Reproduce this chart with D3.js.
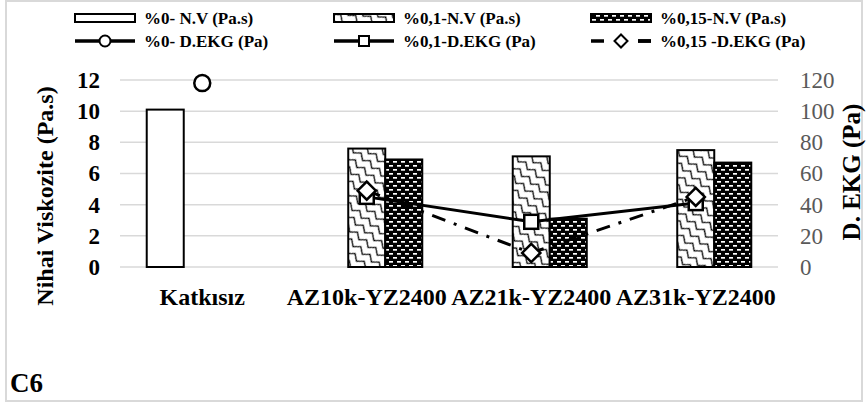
<!DOCTYPE html>
<html>
<head>
<meta charset="utf-8">
<script src="https://cdn.jsdelivr.net/npm/d3@7"></script>
<style>
	body { margin: 0; background: #fff; }
</style>
</head>
<body>
<div id="chart"></div>
<script>
const categories = ["Katkısız", "AZ10k-YZ2400", "AZ21k-YZ2400", "AZ31k-YZ2400"];

// Nihai viskozite (Pa.s), left axis
const nv0 = [10.1, null, null, null];
const nv01 = [null, 7.6, 7.1, 7.5];
const nv015 = [null, 6.9, 3.1, 6.7];

// D. EKG (Pa), right axis
const ekg0 = [118, null, null, null];
const ekg01 = [null, 45, 29, 41];
const ekg015 = [null, 49, 9, 45];

const leftTicks = [0, 2, 4, 6, 8, 10, 12];
const rightTicks = [0, 20, 40, 60, 80, 100, 120];

const barSeries = [
	{ name: "%0- N.V (Pa.s)", values: nv0, fill: "#fff" },
	{ name: "%0,1-N.V (Pa.s)", values: nv01, fill: "url(#wave)" },
	{ name: "%0,15-N.V (Pa.s)", values: nv015, fill: "url(#brick)" },
];
const lineSeries = [
	{ name: "%0- D.EKG (Pa)", values: ekg0, marker: "circle", dash: null },
	{ name: "%0,1-D.EKG (Pa)", values: ekg01, marker: "square", dash: null },
	{ name: "%0,15 -D.EKG (Pa)", values: ekg015, marker: "diamond", dash: "14 9 3 9" },
];

const FONT = "Times New Roman, Liberation Serif, DejaVu Serif, serif";
const width = 866;
const height = 405;
const plot = { left: 120, right: 778, top: 80, bottom: 267 };

const svg = d3
	.select("#chart")
	.append("svg")
	.attr("width", width)
	.attr("height", height)
	.style("font-family", FONT);

// Patterns
const defs = svg.append("defs");
const wave = defs
	.append("pattern")
	.attr("id", "wave")
	.attr("patternUnits", "userSpaceOnUse")
	.attr("width", 12)
	.attr("height", 9)
	.attr("patternTransform", "rotate(40)");
wave.append("rect").attr("width", 12).attr("height", 9).attr("fill", "#fff");
wave
	.append("path")
	.attr("d", "M0,4.5 L3,2 L6,4.5 L9,7 L12,4.5")
	.attr("fill", "none")
	.attr("stroke", "#000")
	.attr("stroke-width", 1.3);

const brick = defs
	.append("pattern")
	.attr("id", "brick")
	.attr("patternUnits", "userSpaceOnUse")
	.attr("width", 8)
	.attr("height", 8);
brick.append("rect").attr("width", 8).attr("height", 8).attr("fill", "#000");
[[1, 1, 4], [5, 5, 3], [0, 5, 1]].forEach(([bx, by, bw]) => {
	brick
		.append("rect")
		.attr("x", bx)
		.attr("y", by)
		.attr("width", bw)
		.attr("height", 1.7)
		.attr("fill", "#fff");
});

// Outer border
svg
	.append("rect")
	.attr("x", 6)
	.attr("y", 1)
	.attr("width", 856)
	.attr("height", 400)
	.attr("fill", "none")
	.attr("stroke", "#d9d9d9")
	.attr("stroke-width", 2);

// Scales
const x = d3.scaleBand().domain(categories).range([plot.left, plot.right]);
const bw = x.bandwidth();
const xInner = d3
	.scaleBand()
	.domain(d3.range(barSeries.length))
	.range([bw * 0.1625, bw * 0.8375]);
const y = d3.scaleLinear().domain([0, 12]).range([plot.bottom, plot.top]);
const y2 = d3.scaleLinear().domain([0, 120]).range([plot.bottom, plot.top]);

// Gridlines
svg
	.append("g")
	.selectAll("line")
	.data(leftTicks)
	.join("line")
	.attr("x1", plot.left)
	.attr("x2", plot.right)
	.attr("y1", (d) => y(d))
	.attr("y2", (d) => y(d))
	.attr("stroke", "#d9d9d9")
	.attr("stroke-width", 1.5);

// Left axis
const gLeft = svg
	.append("g")
	.attr("transform", `translate(${plot.left - 20},0)`)
	.call(d3.axisLeft(y).tickValues(leftTicks).tickSize(0).tickPadding(0));
gLeft.select(".domain").remove();
gLeft.attr("font-family", null).attr("font-size", null);
gLeft
	.selectAll("text")
	.style("font-family", FONT)
	.style("font-size", "23px")
	.style("font-weight", "bold")
	.attr("fill", "#000");

// Right axis
const gRight = svg
	.append("g")
	.attr("transform", `translate(${plot.right + 22},0)`)
	.call(d3.axisRight(y2).tickValues(rightTicks).tickSize(0).tickPadding(0));
gRight.select(".domain").remove();
gRight.attr("font-family", null).attr("font-size", null);
gRight
	.selectAll("text")
	.style("font-family", FONT)
	.style("font-size", "23px")
	.attr("fill", "#595959");

// Category labels
svg
	.append("g")
	.selectAll("text")
	.data(categories)
	.join("text")
	.attr("x", (d) => x(d) + bw / 2)
	.attr("y", 305)
	.attr("text-anchor", "middle")
	.style("font-size", "24px")
	.style("font-weight", "bold")
	.text((d) => d);

// Bars
barSeries.forEach((s, si) => {
	svg
		.append("g")
		.selectAll("rect")
		.data(s.values.map((v, i) => ({ v, c: categories[i] })).filter((d) => d.v != null))
		.join("rect")
		.attr("x", (d) => x(d.c) + xInner(si))
		.attr("y", (d) => y(d.v))
		.attr("width", xInner.bandwidth())
		.attr("height", (d) => y(0) - y(d.v))
		.attr("fill", s.fill)
		.attr("stroke", "#000")
		.attr("stroke-width", 2);
});

// Markers
const drawMarker = (g, type, cx, cy, size) => {
	if (type === "circle") {
		g.append("circle").attr("cx", cx).attr("cy", cy).attr("r", size);
	} else if (type === "square") {
		g.append("rect")
			.attr("x", cx - size)
			.attr("y", cy - size)
			.attr("width", size * 2)
			.attr("height", size * 2);
	} else {
		const r = size * 1.3;
		g.append("path").attr("d", `M${cx},${cy - r}L${cx + r},${cy}L${cx},${cy + r}L${cx - r},${cy}Z`);
	}
};

// Lines
const line = d3
	.line()
	.defined((d) => d.v != null)
	.x((d) => x(d.c) + bw / 2)
	.y((d) => y2(d.v));

lineSeries.forEach((s) => {
	const pts = s.values.map((v, i) => ({ v, c: categories[i] }));
	svg
		.append("path")
		.datum(pts)
		.attr("d", line)
		.attr("fill", "none")
		.attr("stroke", "#000")
		.attr("stroke-width", 3)
		.attr("stroke-dasharray", s.dash);
});
lineSeries.forEach((s) => {
	const g = svg.append("g").attr("fill", "#fff").attr("stroke", "#000").attr("stroke-width", 2.5);
	s.values.forEach((v, i) => {
		if (v == null) return;
		drawMarker(g, s.marker, x(categories[i]) + bw / 2, y2(v), s.marker === "circle" ? 8 : 7);
	});
});

// Axis titles
svg
	.append("text")
	.attr("transform", "translate(53,196) rotate(-90)")
	.attr("text-anchor", "middle")
	.style("font-size", "24px")
	.style("font-weight", "bold")
	.text("Nihai Viskozite (Pa.s)");

svg
	.append("text")
	.attr("transform", "translate(860,172) rotate(-90)")
	.attr("text-anchor", "middle")
	.style("font-size", "25px")
	.style("font-weight", "bold")
	.text("D. EKG (Pa)");

// Legend
const legendCols = [75, 334, 591];
const legendRows = [18, 41];
const sampleW = 60;
barSeries.forEach((s, i) => {
	const g = svg.append("g").attr("transform", `translate(${legendCols[i]},${legendRows[0]})`);
	g.append("rect")
		.attr("x", 0)
		.attr("y", -4)
		.attr("width", sampleW)
		.attr("height", 8)
		.attr("fill", s.fill)
		.attr("stroke", "#000")
		.attr("stroke-width", 2);
	g.append("text")
		.attr("x", sampleW + 9)
		.attr("dy", "0.35em")
		.style("font-size", "17px")
		.style("font-weight", "bold")
		.text(s.name);
});
lineSeries.forEach((s, i) => {
	const g = svg.append("g").attr("transform", `translate(${legendCols[i]},${legendRows[1]})`);
	g.append("line")
		.attr("x1", 0)
		.attr("x2", sampleW)
		.attr("stroke", "#000")
		.attr("stroke-width", 3.5)
		.attr("stroke-dasharray", s.dash ? "13 34" : null);
	if (s.dash) {
		g.append("line")
			.attr("x1", sampleW - 13)
			.attr("x2", sampleW)
			.attr("stroke", "#000")
			.attr("stroke-width", 3.5);
	}
	const mg = g.append("g").attr("fill", "#fff").attr("stroke", "#000").attr("stroke-width", 2);
	drawMarker(mg, s.marker, sampleW / 2, 0, s.marker === "circle" ? 5.5 : 5);
	g.append("text")
		.attr("x", sampleW + 9)
		.attr("dy", "0.35em")
		.style("font-size", "17px")
		.style("font-weight", "bold")
		.text(s.name);
});

// Panel label
svg
	.append("text")
	.attr("x", 10)
	.attr("y", 392)
	.style("font-size", "27px")
	.style("font-weight", "bold")
	.text("C6");
</script>
</body>
</html>
